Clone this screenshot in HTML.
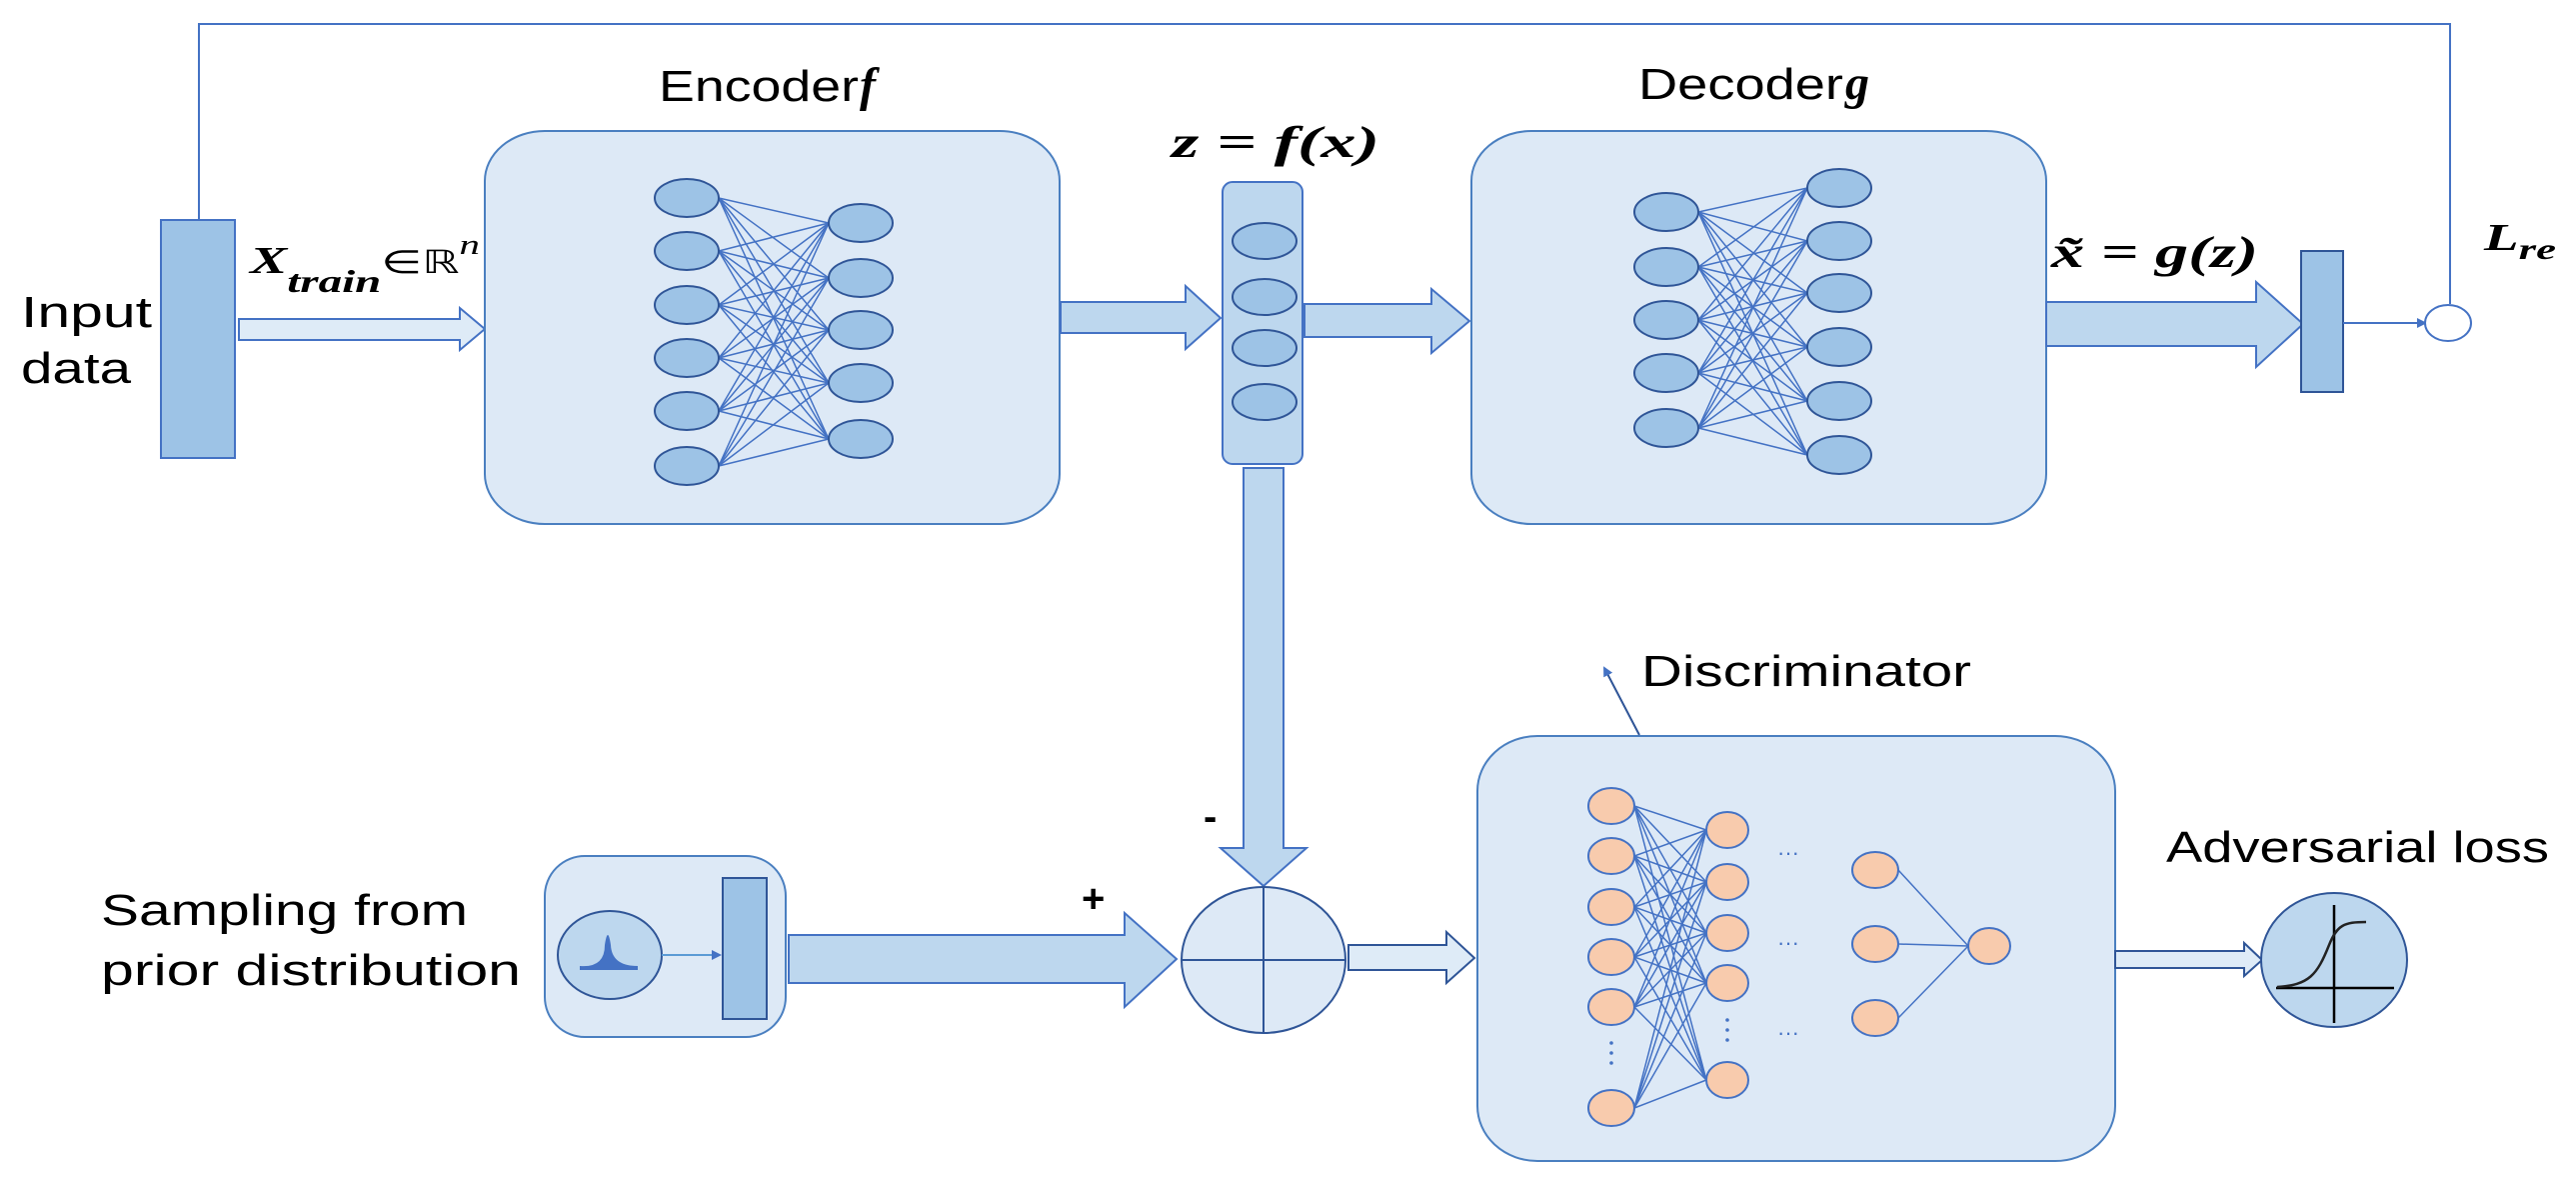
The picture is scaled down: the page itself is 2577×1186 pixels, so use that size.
<!DOCTYPE html>
<html><head><meta charset="utf-8"><style>html,body{margin:0;padding:0;background:#fff}svg{display:block}</style></head>
<body>
<svg width="2577" height="1186" viewBox="0 0 2577 1186" xmlns="http://www.w3.org/2000/svg">
<defs>
<marker id="ah" markerWidth="10" markerHeight="10" refX="8" refY="5" orient="auto" markerUnits="userSpaceOnUse"><path d="M0,0 L10,5 L0,10 z" fill="#4472c4"/></marker>
</defs>
<g font-family="Liberation Sans, sans-serif" fill="#000">
<polyline points="199,220 199,24 2451,24 2451,304" fill="none" stroke="#4472c4" stroke-width="2"/>

<rect x="161" y="220" width="74" height="238" fill="#9dc3e6" stroke="#4472c4" stroke-width="2"/>
<text x="21" y="327" font-size="44" textLength="131" lengthAdjust="spacingAndGlyphs">Input</text>
<text x="21" y="383" font-size="44" textLength="110" lengthAdjust="spacingAndGlyphs">data</text>

<text font-family="Liberation Serif, serif" font-weight="bold" font-style="italic" x="250" y="273" textLength="230" lengthAdjust="spacingAndGlyphs"><tspan font-size="38">X</tspan><tspan y="292" font-size="32">train</tspan><tspan y="273" font-size="32" font-style="normal" font-weight="normal">∈ℝ</tspan><tspan y="254" font-size="28" font-weight="normal">n</tspan></text>

<path d="M239,319 L460,319 L460,308 L485,329 L460,350 L460,340 L239,340 z" fill="#deebf7" stroke="#4472c4" stroke-width="2"/>

<rect x="485" y="131" width="575" height="393" rx="60" ry="50" fill="#dde9f6" stroke="#4a7fc0" stroke-width="2"/>
<text x="659" y="101" font-size="44" textLength="200" lengthAdjust="spacingAndGlyphs">Encoder</text>
<text x="860" y="101" font-size="48" font-family="Liberation Serif, serif" font-style="italic" font-weight="bold">f</text>
<g id="encLines" stroke="#4472c4" stroke-width="1.5"></g>
<g id="encNodes"></g>

<path d="M1061,302 L1186,302 L1186,286 L1221,318 L1186,349 L1186,333 L1061,333 z" fill="#bdd7ee" stroke="#4472c4" stroke-width="2"/>

<rect x="1223" y="182" width="80" height="282" rx="10" fill="#bdd7ee" stroke="#4472c4" stroke-width="2"/>
<g fill="#9dc3e6" stroke="#2f5597" stroke-width="2">
<ellipse cx="1265" cy="241" rx="32" ry="18"/><ellipse cx="1265" cy="297" rx="32" ry="18"/><ellipse cx="1265" cy="348" rx="32" ry="18"/><ellipse cx="1265" cy="402" rx="32" ry="18"/>
</g>
<text x="1172" y="157" font-size="44" font-family="Liberation Serif, serif" font-style="italic" font-weight="bold" textLength="208" lengthAdjust="spacingAndGlyphs">z = f(x)</text>

<path d="M1305,304 L1432,304 L1432,289 L1470,321 L1432,353 L1432,337 L1305,337 z" fill="#bdd7ee" stroke="#4472c4" stroke-width="2"/>

<rect x="1472" y="131" width="575" height="393" rx="60" ry="50" fill="#dde9f6" stroke="#4a7fc0" stroke-width="2"/>
<text x="1639" y="99" font-size="44" textLength="205" lengthAdjust="spacingAndGlyphs">Decoder</text>
<text x="1846" y="99" font-size="48" font-family="Liberation Serif, serif" font-style="italic" font-weight="bold">g</text>
<g id="decLines" stroke="#4472c4" stroke-width="1.5"></g>
<g id="decNodes"></g>

<text x="2052" y="267" font-size="44" font-family="Liberation Serif, serif" font-style="italic" font-weight="bold" textLength="207" lengthAdjust="spacingAndGlyphs">x̃ = g(z)</text>

<path d="M2047,302 L2257,302 L2257,282 L2304,324 L2257,367 L2257,346 L2047,346 z" fill="#bdd7ee" stroke="#4472c4" stroke-width="2"/>
<rect x="2302" y="251" width="42" height="141" fill="#9dc3e6" stroke="#2f5597" stroke-width="2"/>
<line x1="2344" y1="323" x2="2426" y2="323" stroke="#4472c4" stroke-width="2" marker-end="url(#ah)"/>
<ellipse cx="2449" cy="323" rx="23" ry="18" fill="#fff" stroke="#4472c4" stroke-width="2"/>
<text font-family="Liberation Serif, serif" font-style="italic" font-weight="bold" x="2485" y="250" textLength="72" lengthAdjust="spacingAndGlyphs"><tspan font-size="38">L</tspan><tspan y="259" font-size="30">re</tspan></text>

<path d="M1244,468 L1284,468 L1284,848 L1307,848 L1264,886 L1221,848 L1244,848 z" fill="#bdd7ee" stroke="#4472c4" stroke-width="2"/>
<text x="1204" y="830" font-size="40" font-weight="bold">-</text>
<text x="1082" y="912" font-size="40" font-weight="bold">+</text>

<text x="101" y="925" font-size="44" textLength="367" lengthAdjust="spacingAndGlyphs">Sampling from</text>
<text x="101" y="985" font-size="44" textLength="420" lengthAdjust="spacingAndGlyphs">prior distribution</text>
<rect x="545" y="856" width="241" height="181" rx="40" fill="#dde9f6" stroke="#4a7fc0" stroke-width="2"/>
<ellipse cx="610" cy="955" rx="52" ry="44" fill="#bdd7ee" stroke="#2f5597" stroke-width="2"/>
<path d="M580,966 Q605,968 605,945 Q608,925 611,945 Q612,966 638,966 L638,970 L580,970 z" fill="#4472c4"/>
<line x1="662" y1="955" x2="720" y2="955" stroke="#5b9bd5" stroke-width="2" marker-end="url(#ah)"/>
<rect x="723" y="878" width="44" height="141" fill="#9dc3e6" stroke="#2f5597" stroke-width="2"/>

<path d="M789,935 L1125,935 L1125,913 L1177,959 L1125,1007 L1125,983 L789,983 z" fill="#bdd7ee" stroke="#4472c4" stroke-width="2"/>

<ellipse cx="1264" cy="960" rx="82" ry="73" fill="#dde9f6" stroke="#2f5597" stroke-width="2"/>
<line x1="1182" y1="960" x2="1346" y2="960" stroke="#2f5597" stroke-width="2"/>
<line x1="1264" y1="887" x2="1264" y2="1033" stroke="#2f5597" stroke-width="2"/>

<path d="M1349,945 L1447,945 L1447,932 L1475,958 L1447,983 L1447,970 L1349,970 z" fill="#deebf7" stroke="#2f5597" stroke-width="2"/>

<rect x="1478" y="736" width="638" height="425" rx="60" ry="55" fill="#dde9f6" stroke="#4a7fc0" stroke-width="2"/>
<line x1="1640" y1="735" x2="1605" y2="668" stroke="#2f5597" stroke-width="2" marker-end="url(#ah)"/>
<text x="1642" y="686" font-size="44" textLength="330" lengthAdjust="spacingAndGlyphs">Discriminator</text>
<g id="disLines" stroke="#4472c4" stroke-width="1.5"></g>
<g id="disNodes"></g>
<g fill="#4472c4" font-size="22">
<text x="1778" y="860">···</text><text x="1778" y="950">···</text><text x="1778" y="1040">···</text>
</g>
<g fill="#4472c4">
<circle cx="1612" cy="1043" r="1.8"/><circle cx="1612" cy="1053" r="1.8"/><circle cx="1612" cy="1063" r="1.8"/>
<circle cx="1728" cy="1020" r="1.8"/><circle cx="1728" cy="1030" r="1.8"/><circle cx="1728" cy="1040" r="1.8"/>
</g>

<path d="M2116,951 L2245,951 L2245,943 L2263,960 L2245,976 L2245,968 L2116,968 z" fill="#deebf7" stroke="#2f5597" stroke-width="2"/>
<text x="2167" y="862" font-size="44" textLength="383" lengthAdjust="spacingAndGlyphs">Adversarial loss</text>
<ellipse cx="2335" cy="960" rx="73" ry="67" fill="#bdd7ee" stroke="#2f5597" stroke-width="2"/>
<line x1="2335" y1="905" x2="2335" y2="1023" stroke="#000" stroke-width="2.5"/>
<line x1="2277" y1="988" x2="2395" y2="988" stroke="#000" stroke-width="2.5"/>
<path d="M2278,987 C2310,985 2318,975 2330,945 C2338,925 2345,922 2367,922" fill="none" stroke="#222" stroke-width="2.5"/>
</g>
<script>
var NS="http://www.w3.org/2000/svg";
function layer(lid,nid,L,R,fill,stroke,rxL,ryL,rxR,ryR){
 var lg=document.getElementById(lid),ng=document.getElementById(nid);
 L.forEach(function(a){R.forEach(function(b){var l=document.createElementNS(NS,"line");l.setAttribute("x1",a[0]+rxL);l.setAttribute("y1",a[1]);l.setAttribute("x2",b[0]-rxR);l.setAttribute("y2",b[1]);lg.appendChild(l);});});
 function n(p,rx,ry){var e=document.createElementNS(NS,"ellipse");e.setAttribute("cx",p[0]);e.setAttribute("cy",p[1]);e.setAttribute("rx",rx);e.setAttribute("ry",ry);e.setAttribute("fill",fill);e.setAttribute("stroke",stroke);e.setAttribute("stroke-width","2");ng.appendChild(e);}
 L.forEach(function(p){n(p,rxL,ryL)});R.forEach(function(p){n(p,rxR,ryR)});
}
layer("encLines","encNodes",[198,251,305,358,411,466].map(function(y){return[687,y]}),[223,278,330,383,439].map(function(y){return[861,y]}),"#9dc3e6","#2f5597",32,19,32,19);
layer("decLines","decNodes",[212,267,320,373,428].map(function(y){return[1667,y]}),[188,241,293,347,401,455].map(function(y){return[1840,y]}),"#9dc3e6","#2f5597",32,19,32,19);
layer("disLines","disNodes",[806,856,907,957,1007,1108].map(function(y){return[1612,y]}),[830,882,933,983,1080].map(function(y){return[1728,y]}),"#f8cbad","#4472c4",23,18,21,18);
layer("disLines","disNodes",[870,944,1018].map(function(y){return[1876,y]}),[[1990,946]],"#f8cbad","#4472c4",23,18,21,18);
</script>
</svg>
</body></html>
